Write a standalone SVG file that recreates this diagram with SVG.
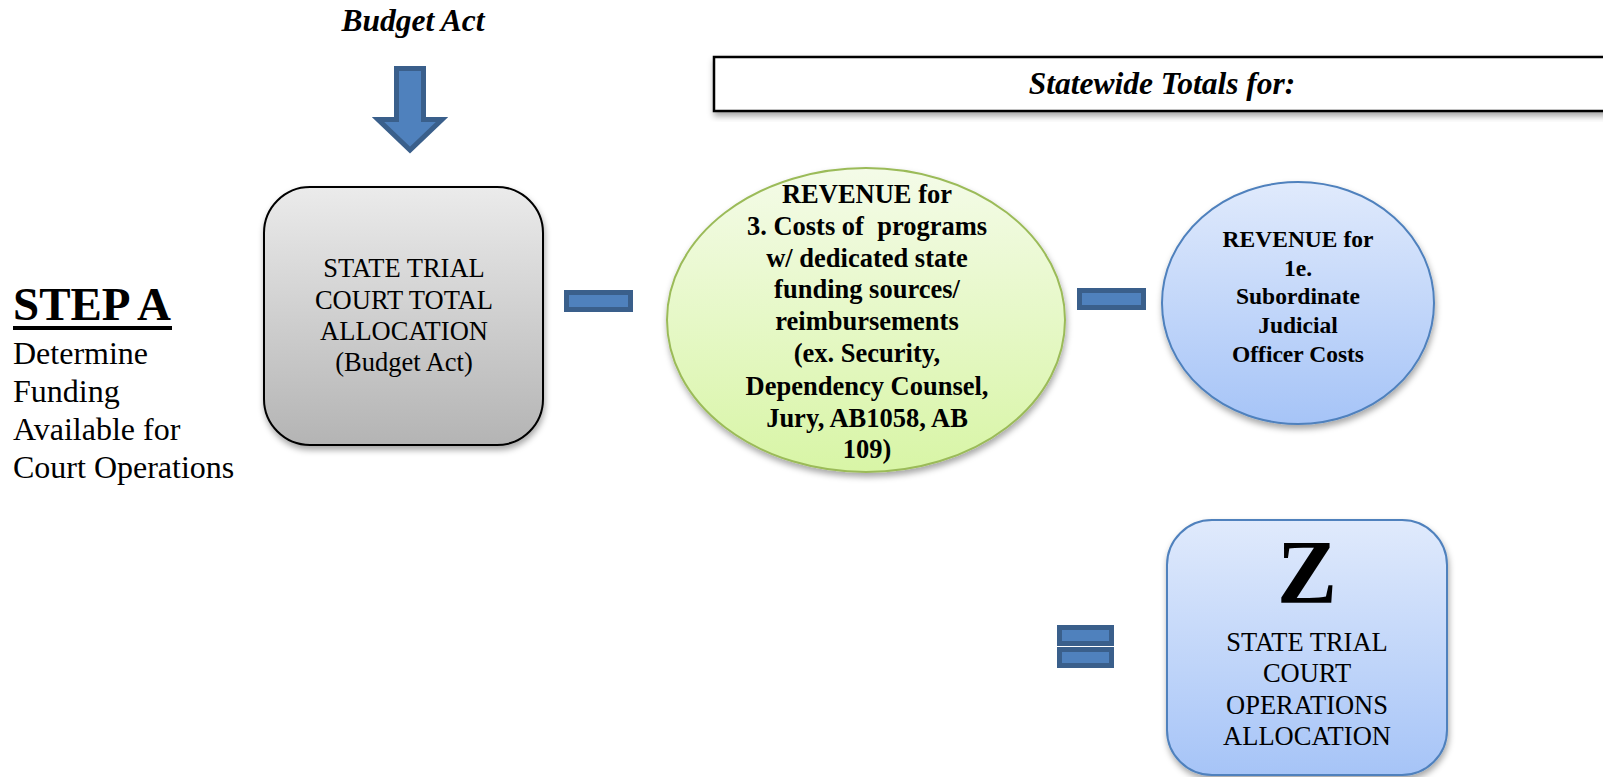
<svg xmlns="http://www.w3.org/2000/svg" width="1603" height="777" viewBox="0 0 1603 777">
<defs>
<linearGradient id="gGray" x1="0" y1="0" x2="0" y2="1"><stop offset="0" stop-color="#EBEBEB"/><stop offset="1" stop-color="#B4B4B4"/></linearGradient>
<linearGradient id="gGreen" x1="0" y1="0" x2="0" y2="1"><stop offset="0" stop-color="#F4FBE8"/><stop offset="1" stop-color="#D8F5A6"/></linearGradient>
<linearGradient id="gBlue" x1="0" y1="0" x2="0" y2="1"><stop offset="0" stop-color="#E0EAFC"/><stop offset="1" stop-color="#A6C4F7"/></linearGradient>
<filter id="sh" x="-10%" y="-10%" width="125%" height="130%"><feDropShadow dx="1" dy="4" stdDeviation="3" flood-color="#000" flood-opacity="0.35"/></filter>
<style>
.t{font-family:"Liberation Serif","Times New Roman",serif;fill:#000;text-anchor:middle}
.l{font-family:"Liberation Serif","Times New Roman",serif;fill:#000}
.b{font-weight:bold}
.i{font-style:italic}
.op{fill:#4F81BD;stroke:#3A5F8B;stroke-width:5}
</style>
</defs>
<rect width="1603" height="777" fill="#fff"/>
<g id="budget-act-label"><text class="t b i" x="413" y="31" font-size="31.5">Budget Act</text></g>
<g id="connectors">
<path class="op" d="M396.5,68.5 H423.5 V119.5 H442 L410,150 L378,119.5 H396.5 Z"/>
<rect class="op" x="566.5" y="292.5" width="64" height="17"/>
<rect class="op" x="1079.5" y="290.5" width="64" height="17"/>
<rect class="op" x="1059.5" y="627.5" width="52" height="16"/>
<rect class="op" x="1059.5" y="649.5" width="52" height="16"/>
</g>
<g id="statewide-header">
<rect x="714" y="57" width="900" height="54" fill="#fff" stroke="#000" stroke-width="2.5" filter="url(#sh)"/>
<text class="t b i" x="1162" y="94" font-size="31.5">Statewide Totals for:</text>
</g>
<g id="step-a">
<text class="l b" x="13" y="320" font-size="47">STEP A</text>
<rect x="13" y="326" width="159" height="4" fill="#000"/>
<text class="l" font-size="32"><tspan x="13" y="364">Determine</tspan><tspan x="13" y="402">Funding</tspan><tspan x="13" y="440">Available for</tspan><tspan x="13" y="478">Court Operations</tspan></text>
</g>
<g id="total-allocation">
<rect x="264" y="187" width="279" height="258" rx="46" fill="url(#gGray)" stroke="#000" stroke-width="2" filter="url(#sh)"/>
<text class="t" font-size="26.5"><tspan x="404" y="277">STATE TRIAL</tspan><tspan x="404" y="309">COURT TOTAL</tspan><tspan x="404" y="340">ALLOCATION</tspan><tspan x="404" y="371">(Budget Act)</tspan></text>
</g>
<g id="revenue-3">
<ellipse cx="866" cy="320" rx="199" ry="152" fill="url(#gGreen)" stroke="#9BBB59" stroke-width="2" filter="url(#sh)"/>
<text class="t b" font-size="26.5" xml:space="preserve"><tspan x="867" y="203">REVENUE for</tspan><tspan x="867" y="235">3. Costs of  programs</tspan><tspan x="867" y="267">w/ dedicated state</tspan><tspan x="867" y="298">funding sources/</tspan><tspan x="867" y="330">reimbursements</tspan><tspan x="867" y="362">(ex. Security,</tspan><tspan x="867" y="395">Dependency Counsel,</tspan><tspan x="867" y="427">Jury, AB1058, AB</tspan><tspan x="867" y="458">109)</tspan></text>
</g>
<g id="revenue-1e">
<ellipse cx="1298" cy="303" rx="136" ry="121" fill="url(#gBlue)" stroke="#4F81BD" stroke-width="2" filter="url(#sh)"/>
<text class="t b" font-size="23.5"><tspan x="1298" y="247">REVENUE for</tspan><tspan x="1298" y="276">1e.</tspan><tspan x="1298" y="304">Subordinate</tspan><tspan x="1298" y="333">Judicial</tspan><tspan x="1298" y="362">Officer Costs</tspan></text>
</g>
<g id="operations-allocation">
<rect x="1167" y="520" width="280" height="255" rx="45" fill="url(#gBlue)" stroke="#4F81BD" stroke-width="2" filter="url(#sh)"/>
<text class="t b" x="1307" y="603" font-size="90">Z</text>
<text class="t" font-size="26.5"><tspan x="1307" y="651">STATE TRIAL</tspan><tspan x="1307" y="682">COURT</tspan><tspan x="1307" y="714">OPERATIONS</tspan><tspan x="1307" y="745">ALLOCATION</tspan></text>
</g>
</svg>
